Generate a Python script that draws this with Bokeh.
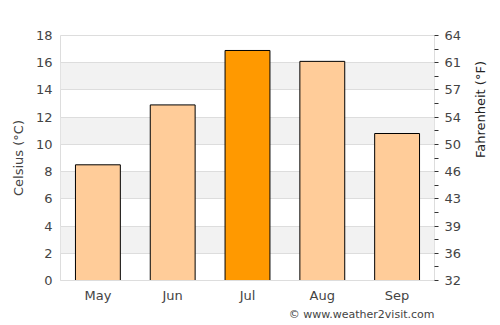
import math
from bokeh.plotting import figure
from bokeh.models import LinearAxis, FixedTicker, Title, ColumnDataSource, Range1d
from bokeh.embed import file_html
from bokeh.resources import INLINE

months = ["May", "Jun", "Jul", "Aug", "Sep"]
celsius = [8.5, 12.9, 16.9, 16.1, 10.8]
colors = ["#ffcc99", "#ffcc99", "#ff9900", "#ffcc99", "#ffcc99"]
c_ticks = [0, 2, 4, 6, 8, 10, 12, 14, 16, 18]
f_labels = ["32", "36", "39", "43", "46", "50", "54", "57", "61", "64"]
c_minor = [1, 3, 5, 7, 9, 11, 13, 15, 17]

FONT = "DejaVu Sans"

p = figure(x_range=months, y_range=Range1d(0, 18), width=500, height=325,
           output_backend="svg", toolbar_location=None,
           min_border_left=60, min_border_right=66, min_border_top=35, min_border_bottom=45)

src = ColumnDataSource(dict(m=months, c=celsius, col=colors))
p.vbar(x="m", top="c", width=0.6, source=src, fill_color="col",
       line_color="black", line_width=1)

p.outline_line_color = "#dddddd"
p.xgrid.grid_line_color = None
p.ygrid.ticker = FixedTicker(ticks=c_ticks)
p.ygrid.grid_line_color = "#dddddd"
p.ygrid.band_fill_color = "#f2f2f2"
p.ygrid.band_fill_alpha = 1.0

# left axis
la = p.yaxis[0]
la.ticker = FixedTicker(ticks=c_ticks)
la.axis_line_color = None
la.major_tick_line_color = None
la.minor_tick_line_color = None
la.major_tick_out = 0
la.minor_tick_out = 0
la.axis_label = "Celsius (°C)"
la.axis_label_text_font_style = "normal"
la.axis_label_text_font = FONT
la.axis_label_text_font_size = "13px"
la.axis_label_text_color = "#444444"
la.major_label_text_font = FONT
la.major_label_text_font_size = "13px"
la.major_label_text_color = "#444444"
la.major_label_standoff = 8
la.axis_label_standoff = 7

# bottom axis
xa = p.xaxis[0]
xa.axis_line_color = "#dddddd"
xa.major_tick_line_color = None
xa.minor_tick_line_color = None
xa.major_tick_out = 0
xa.minor_tick_out = 0
xa.major_label_text_font = FONT
xa.major_label_text_font_size = "13px"
xa.major_label_text_color = "#444444"
xa.major_label_standoff = 7

# right axis (Fahrenheit)
ra = LinearAxis(ticker=FixedTicker(ticks=c_ticks, minor_ticks=c_minor),
                major_label_overrides={t: l for t, l in zip(c_ticks, f_labels)})
ra.axis_line_color = None
ra.major_tick_in = 0
ra.major_tick_out = 4
ra.minor_tick_in = 0
ra.minor_tick_out = 4
ra.major_tick_line_color = "#333333"
ra.minor_tick_line_color = "#333333"
ra.axis_label = "Fahrenheit (°F)"
ra.axis_label_orientation = math.pi / 2
ra.axis_label_standoff = 16
ra.axis_label_text_font_style = "normal"
ra.axis_label_text_font = FONT
ra.axis_label_text_font_size = "13px"
ra.axis_label_text_color = "#222222"
ra.major_label_text_font = FONT
ra.major_label_text_font_size = "13px"
ra.major_label_text_color = "#444444"
ra.major_label_standoff = 6
p.add_layout(ra, "right")

p.add_layout(Title(text="© www.weather2visit.com", align="right",
                   text_font=FONT, text_font_size="11px", text_color="#444444",
                   text_font_style="normal", standoff=0, offset=0), "below")

open("out.html", "w").write(file_html(p, INLINE))
